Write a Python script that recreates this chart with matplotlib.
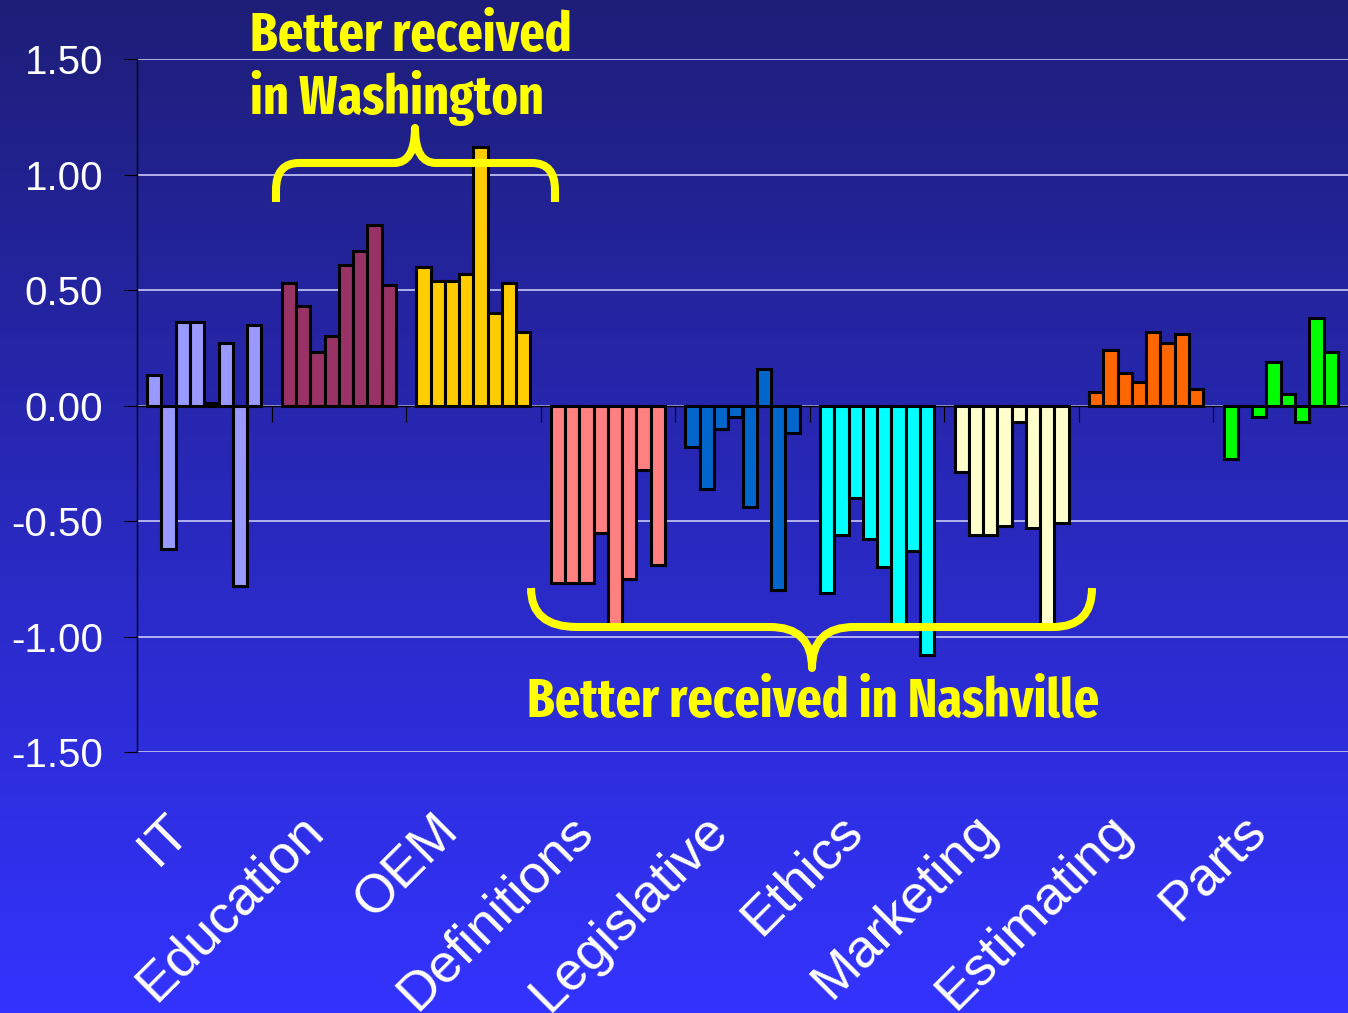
import numpy as np
import matplotlib
matplotlib.use("Agg")
from matplotlib import pyplot as plt
from matplotlib.path import Path
from matplotlib.patches import PathPatch
from matplotlib.ticker import MultipleLocator, FormatStrFormatter

plt.rcParams['font.family'] = ['Liberation Sans', 'DejaVu Sans']
plt.rcParams['axes.unicode_minus'] = False

# survey topics (one group of 8 sessions per topic)
categories = ['IT', 'Education', 'OEM', 'Definitions', 'Legislative',
              'Ethics', 'Marketing', 'Estimating', 'Parts']
it = [0.13, -0.62, 0.36, 0.36, 0.01, 0.27, -0.78, 0.35]
education = [0.53, 0.43, 0.23, 0.30, 0.61, 0.67, 0.78, 0.52]
oem = [0.60, 0.54, 0.54, 0.57, 1.12, 0.40, 0.53, 0.32]
definitions = [-0.77, -0.77, -0.77, -0.55, -0.95, -0.75, -0.28, -0.69]
legislative = [-0.18, -0.36, -0.10, -0.05, -0.44, 0.16, -0.80, -0.12]
ethics = [-0.81, -0.56, -0.40, -0.58, -0.70, -0.95, -0.63, -1.08]
marketing = [-0.29, -0.56, -0.56, -0.52, -0.07, -0.53, -0.95, -0.51]
estimating = [0.06, 0.24, 0.14, 0.10, 0.32, 0.27, 0.31, 0.07]
parts = [-0.23, 0.00, -0.05, 0.19, 0.05, -0.07, 0.38, 0.23]

groups = [it, education, oem, definitions, legislative,
          ethics, marketing, estimating, parts]
colors = ['#9999FF', '#993366', '#FFCC00', '#FF8080', '#0066CC',
          '#00FFFF', '#FFFFCC', '#FF6600', '#00FF00']

W, H = 1348, 1013
fig = plt.figure(figsize=(W / 100, H / 100), dpi=100)

# background: vertical gradient navy -> bright blue
bg = fig.add_axes([0, 0, 1, 1], zorder=-10)
top = np.array([30, 30, 120]) / 255
bot = np.array([51, 51, 255]) / 255
t = np.linspace(0, 1, 256)[:, None]
grad = top + (bot - top) * t
bg.imshow(grad[:, None, :], aspect='auto', extent=[0, 1, 0, 1])
bg.axis('off')

# plot area in pixels: x 137..1348, y 59..752
ax = fig.add_axes([137 / W, 1 - 752 / H, (W - 137) / W, (752 - 59) / H])
ax.set_facecolor('none')

bw = 0.106
for i, (vals, col) in enumerate(zip(groups, colors)):
    xs = i + (np.arange(len(vals)) - (len(vals) - 1) / 2) * bw
    ax.bar(xs, vals, width=bw, color=col, edgecolor='black',
           linewidth=2.2, zorder=3)

ax.set_xlim(-0.5, len(categories) - 0.5)
ax.set_ylim(-1.5, 1.5)
ax.yaxis.set_major_locator(MultipleLocator(0.5))
ax.yaxis.set_major_formatter(FormatStrFormatter('%.2f'))
ax.grid(axis='y', color='#c8c8f8', linewidth=1.2, zorder=0)
ax.set_axisbelow(True)

for s in ['top', 'right']:
    ax.spines[s].set_visible(False)
ax.spines['left'].set_color('black')
ax.spines['left'].set_linewidth(1)
ax.spines['bottom'].set_position(('data', 0))
ax.spines['bottom'].set_color('black')
ax.spines['bottom'].set_linewidth(1)
ax.spines['bottom'].set_zorder(4)

ax.tick_params(axis='y', colors='black', labelcolor='white', labelsize=29,
               length=9.4, width=0.8, pad=15, direction='out')
ax.set_xticks([])
ax.set_xticks(np.arange(len(categories) - 1) + 0.5, minor=True)
ax.tick_params(axis='x', which='minor', length=11.5, width=0.8,
               direction='out', colors='black')

# category names sit below the plot, rotated
for i, name in enumerate(categories):
    ax.text(i - 0.17, -0.102, name, transform=ax.get_xaxis_transform(),
            rotation=45, rotation_mode='anchor', ha='right', va='center',
            fontsize=39, color='white')


def px(x, y):
    return (x / W, 1 - y / H)


def brace(pts, codes):
    verts = [px(*p) for p in pts]
    patch = PathPatch(Path(verts, codes), transform=fig.transFigure,
                      facecolor='none', edgecolor='#FFFF00', linewidth=5.8,
                      capstyle='butt', joinstyle='round', zorder=20)
    fig.add_artist(patch)


M, L, C = Path.MOVETO, Path.LINETO, Path.CURVE3

# brace over Education / OEM
brace([(276, 202), (276, 190), (276, 163), (299, 163), (394, 163),
       (415, 163), (415, 128), (415, 163), (436, 163), (532, 163),
       (555, 163), (555, 190), (555, 202)],
      [M, L, C, C, L, C, C, C, C, L, C, C, L])

# brace under Definitions .. Marketing
brace([(531, 588), (531, 627), (577, 627), (770, 627),
       (812, 627), (812, 668), (812, 627), (854, 627), (1053, 627),
       (1092, 627), (1092, 588)],
      [M, C, C, L, C, C, C, C, L, C, C])

note = dict(color='#FFFF00', fontsize=39, fontweight='bold',
            fontstretch='condensed',
            family=['Fira Sans Extra Condensed', 'DejaVu Sans'],
            va='baseline', ha='left')
fig.text(*px(250, 51), 'Better received', **note)
fig.text(*px(250, 114), 'in Washington', **note)
fig.text(*px(527, 717), 'Better received in Nashville', **note)

fig.savefig('out.png', dpi=100)
